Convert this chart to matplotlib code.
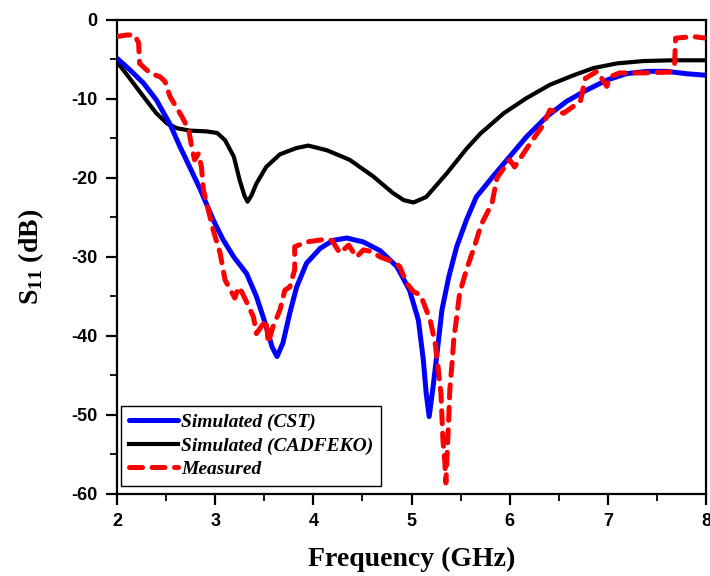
import matplotlib
matplotlib.use('Agg')
import matplotlib.pyplot as plt

plt.rcParams['axes.unicode_minus'] = False
plt.rcParams['mathtext.fontset'] = 'custom'
plt.rcParams['mathtext.rm'] = 'Liberation Serif:bold'
plt.rcParams['mathtext.bf'] = 'Liberation Serif:bold'

# Simulated (CST)
cst_f = [2.0, 2.13, 2.27, 2.40, 2.54, 2.64, 2.74, 2.85, 2.98, 3.08, 3.19, 3.32, 3.42, 3.51,
         3.58, 3.63, 3.69, 3.76, 3.83, 3.93, 4.07, 4.20, 4.34, 4.51, 4.68, 4.85, 4.98, 5.07,
         5.12, 5.15, 5.18, 5.22, 5.26, 5.31, 5.38, 5.46, 5.56, 5.66, 5.83, 6.00, 6.17, 6.38,
         6.58, 6.78, 6.99, 7.19, 7.40, 7.60, 7.80, 8.0]
cst_s = [-4.85, -6.3, -8.0, -10.1, -13.2, -16.0, -18.6, -21.5, -25.3, -27.8, -30.0, -32.1, -35.0, -38.4,
         -41.4, -42.6, -40.9, -37.1, -33.8, -30.8, -28.9, -27.9, -27.6, -28.1, -29.2, -31.2, -34.2, -38.0,
         -43.0, -47.3, -50.2, -46.4, -42.2, -36.7, -32.5, -28.7, -25.3, -22.4, -19.8, -17.3, -14.8, -12.2,
         -10.3, -8.9, -7.6, -6.8, -6.5, -6.5, -6.8, -7.0]

# Simulated (CADFEKO)
feko_f = [2.0, 2.13, 2.27, 2.40, 2.51, 2.61, 2.74, 2.91, 3.02, 3.10, 3.19, 3.25, 3.30, 3.33,
          3.37, 3.42, 3.52, 3.66, 3.83, 3.95, 4.14, 4.37, 4.61, 4.81, 4.92, 5.02, 5.15, 5.36,
          5.56, 5.70, 5.94, 6.17, 6.41, 6.65, 6.85, 7.09, 7.36, 7.67, 8.0]
feko_s = [-5.3, -7.4, -9.7, -11.8, -13.1, -13.7, -14.0, -14.1, -14.3, -15.2, -17.3, -20.3, -22.3, -23.0,
          -22.2, -20.7, -18.6, -17.0, -16.2, -15.9, -16.5, -17.7, -19.8, -21.9, -22.8, -23.1, -22.4, -19.4,
          -16.3, -14.4, -11.8, -9.9, -8.2, -7.0, -6.1, -5.5, -5.2, -5.1, -5.1]

# Measured
meas_f = [2.0, 2.1, 2.18, 2.22, 2.23, 2.34, 2.44, 2.49, 2.54, 2.66, 2.73, 2.76, 2.79, 2.83, 2.86,
          2.88, 2.98, 3.05, 3.10, 3.20, 3.24, 3.27, 3.35, 3.39, 3.42, 3.47, 3.52, 3.54, 3.59, 3.66,
          3.71, 3.76, 3.81, 3.81, 3.93, 4.10, 4.19, 4.27, 4.36, 4.44, 4.51, 4.59, 4.68, 4.81, 4.88,
          4.95, 5.02, 5.09, 5.12, 5.19, 5.24, 5.27, 5.30, 5.31, 5.32, 5.34, 5.35, 5.38, 5.39, 5.41,
          5.43, 5.46, 5.49, 5.56, 5.64, 5.71, 5.82, 5.87, 6.00, 6.05, 6.21, 6.33, 6.41, 6.55, 6.72,
          6.77, 6.89, 6.99, 7.02, 7.12, 7.36, 7.63, 7.68, 7.69, 7.87, 8.0]
meas_s = [-2.1, -1.9, -1.9, -2.9, -5.5, -6.75, -7.2, -7.8, -9.7, -12.2, -13.9, -16.0, -17.7, -16.9, -18.6,
          -21.5, -26.6, -29.5, -32.9, -35.2, -33.8, -34.4, -36.5, -37.6, -39.7, -38.8, -38.0, -40.9, -38.8, -36.7,
          -34.2, -33.8, -31.6, -28.7, -28.1, -27.8, -27.9, -29.5, -28.5, -30.0, -29.1, -29.3, -30.0, -30.6, -31.2,
          -33.3, -34.4, -34.8, -35.7, -38.0, -40.9, -43.9, -47.3, -50.2, -53.2, -56.1, -58.6, -50.2, -46.8, -43.9,
          -40.5, -37.6, -34.6, -31.6, -28.7, -25.9, -23.2, -20.0, -17.7, -18.6, -15.6, -13.5, -11.4, -11.8, -10.3,
          -7.4, -6.5, -8.4, -7.2, -6.7, -6.7, -6.6, -5.5, -2.3, -2.1, -2.3]

serif = ['Liberation Serif', 'DejaVu Serif']
sans = ['Liberation Sans Narrow', 'Liberation Sans', 'DejaVu Sans']

fig = plt.figure(figsize=(7.1, 5.76), dpi=100)
ax = fig.add_axes([0.1648, 0.1424, 0.8296, 0.8229])

ax.plot(cst_f, cst_s, color='#0000ff', lw=3.6, solid_capstyle='round', solid_joinstyle='round',
        label='Simulated (CST)', zorder=3)
ax.plot(feko_f, feko_s, color='black', lw=3.0, solid_joinstyle='round',
        label='Simulated (CADFEKO)', zorder=2)
ax.plot(meas_f, meas_s, color='#ff0000', lw=3.6, dashes=(2.6, 1.9), dash_capstyle='round',
        dash_joinstyle='round', label='Measured', zorder=4)

ax.set_xlim(2, 8)
ax.set_ylim(-60, 0)
ax.set_xticks(range(2, 9))
ax.set_yticks(range(-60, 1, 10))
ax.set_xticks([x + 0.5 for x in range(2, 8)], minor=True)
ax.set_yticks([y + 5 for y in range(-60, 0, 10)], minor=True)
ax.tick_params(which='major', direction='out', length=8, width=1.6, pad=6, top=False, right=False)
ax.tick_params(which='minor', direction='out', length=5, width=1.3, top=False, right=False)
for lab in ax.get_xticklabels() + ax.get_yticklabels():
    lab.set_family(sans)
    lab.set_fontweight('bold')
    lab.set_fontsize(13)
for sp in ax.spines.values():
    sp.set_linewidth(1.6)

ax.set_xlabel('Frequency (GHz)', family=serif, fontweight='bold', fontsize=20, labelpad=12)
ax.set_ylabel(r'S$_{\mathbf{11}}$ (dB)', family=serif, fontweight='bold', fontsize=20, labelpad=18)

leg = ax.legend(loc='lower left', bbox_to_anchor=(0.007, 0.017), borderaxespad=0,
                prop={'family': serif, 'weight': 'bold', 'style': 'italic', 'size': 14},
                handlelength=2.5, handletextpad=0.2, labelspacing=0.3, borderpad=0.4,
                fancybox=False, framealpha=1)
leg.get_frame().set_edgecolor('black')
leg.get_frame().set_linewidth(1.0)

fig.savefig('out.png', dpi=100)
